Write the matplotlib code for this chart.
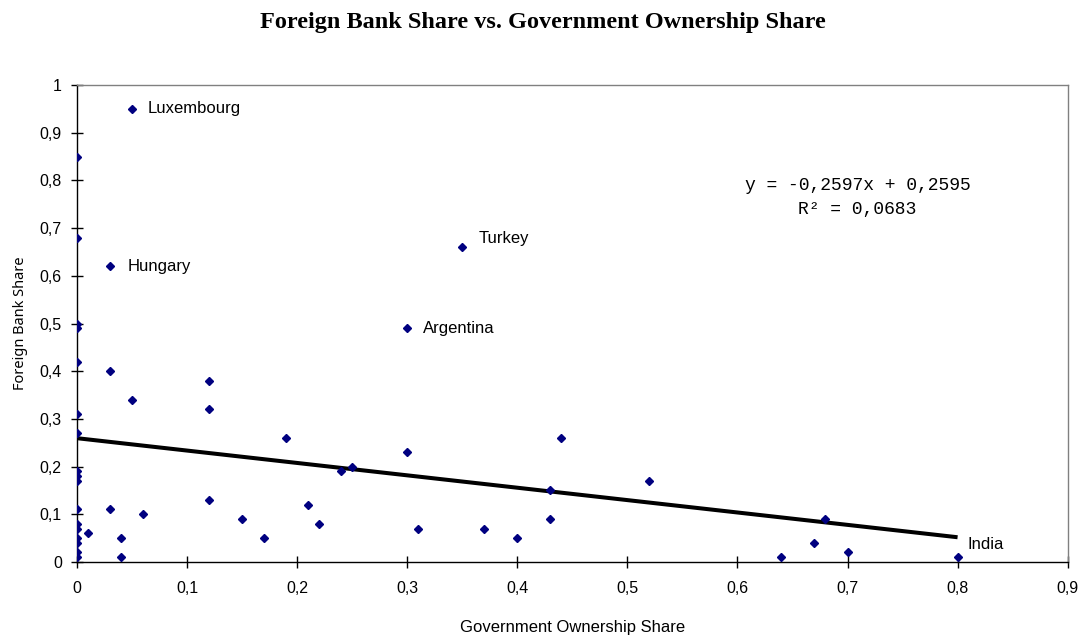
import matplotlib.pyplot as plt
from matplotlib.ticker import FuncFormatter

# government ownership share (x) and foreign bank share (y)
gov_share = [0, 0, 0, 0, 0, 0, 0, 0, 0, 0, 0, 0, 0, 0, 0, 0, 0,
             0.05, 0.03, 0.35, 0.30, 0.80,
             0.03, 0.05, 0.12, 0.12, 0.12, 0.03, 0.06, 0.01, 0.04, 0.04, 0.15,
             0.17, 0.19, 0.21, 0.22, 0.24, 0.25, 0.30, 0.31, 0.37, 0.40,
             0.43, 0.43, 0.44, 0.52, 0.64, 0.67, 0.68, 0.70]
foreign_share = [0.85, 0.68, 0.50, 0.49, 0.42, 0.31, 0.27, 0.19, 0.18, 0.17,
                 0.11, 0.08, 0.07, 0.05, 0.04, 0.02, 0.01,
                 0.95, 0.62, 0.66, 0.49, 0.01,
                 0.40, 0.34, 0.38, 0.32, 0.13, 0.11, 0.10, 0.06, 0.05, 0.01, 0.09,
                 0.05, 0.26, 0.12, 0.08, 0.19, 0.20, 0.23, 0.07, 0.07, 0.05,
                 0.15, 0.09, 0.26, 0.17, 0.01, 0.04, 0.09, 0.02]

# labelled countries: name, x, y, offset in points
labels = [("Luxembourg", 0.05, 0.95, (11, 0)),
          ("Hungary", 0.03, 0.62, (13, 0)),
          ("Turkey", 0.35, 0.66, (12, 6)),
          ("Argentina", 0.30, 0.49, (11, 0)),
          ("India", 0.80, 0.01, (7, 9))]

slope, intercept = -0.2597, 0.2595
trend_x = [0, 0.8]

plt.rcParams['font.family'] = ['Liberation Sans', 'DejaVu Sans']

fig = plt.figure(figsize=(10.85, 6.4), dpi=100)
ax = fig.add_axes([0.071, 0.122, 0.913, 0.745])

ax.plot(gov_share, foreign_share, linestyle='none', marker='D', ms=3.7,
        color='#000080', zorder=3)
ax.plot(trend_x, [slope * x + intercept for x in trend_x], color='black',
        lw=2.9, zorder=2, solid_capstyle='butt')

for name, x, y, off in labels:
    ax.annotate(name, (x, y), xytext=off, textcoords='offset points',
                fontsize=12, va='center', ha='left')

ax.text(0.709, 0.765, "y = -0,2597x + 0,2595\nR\u00b2 = 0,0683", transform=ax.transData,
        family=['Liberation Mono', 'DejaVu Sans Mono'], fontsize=13,
        ha='center', va='center', linespacing=1.55)

ax.set_xlim(0, 0.9)
ax.set_ylim(0, 1)
ax.set_xticks([i / 10 for i in range(10)])
ax.set_yticks([i / 10 for i in range(11)])
fmt = FuncFormatter(lambda v, p: ('%g' % round(v, 1)).replace('.', ','))
ax.xaxis.set_major_formatter(fmt)
ax.yaxis.set_major_formatter(fmt)
ax.tick_params(direction='inout', length=8, width=1, labelsize=11.5)
ax.tick_params(axis='x', pad=10)
ax.tick_params(axis='y', pad=7)

for s in ['top', 'right']:
    ax.spines[s].set_color('#808080')
    ax.spines[s].set_linewidth(1)
for s in ['left', 'bottom']:
    ax.spines[s].set_color('black')
    ax.spines[s].set_linewidth(1)

ax.set_xlabel("Government Ownership Share", fontsize=12, labelpad=17)
ax.set_ylabel("Foreign Bank Share", family=['Noto Sans', 'DejaVu Sans'],
              fontsize=10.5, labelpad=8)
fig.suptitle("Foreign Bank Share vs. Government Ownership Share",
             family=['Liberation Serif', 'DejaVu Serif'], fontweight='bold',
             fontsize=17.5, y=0.982)

fig.savefig("out.png", dpi=100)
